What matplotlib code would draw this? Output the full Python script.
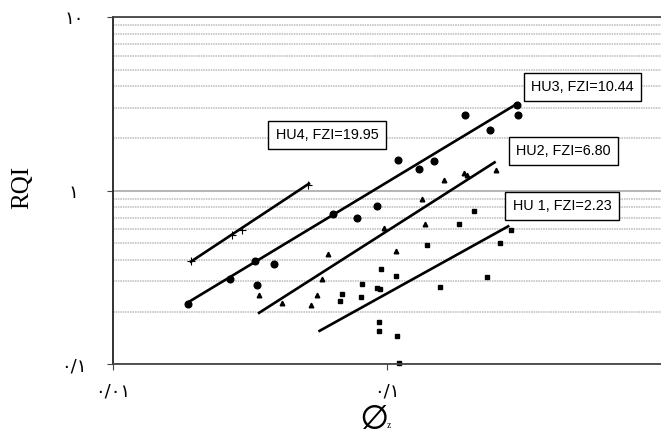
import matplotlib
matplotlib.use("Agg")
import matplotlib.pyplot as plt
from matplotlib.ticker import FixedLocator, NullFormatter, LogLocator

# data (phi_z, RQI)
hu1_phi = [0.0673, 0.0684, 0.0802, 0.0809, 0.0917, 0.0941, 0.0933, 0.0933, 0.0949, 0.1075,
           0.1085, 0.1103, 0.1395, 0.1555, 0.1824, 0.2068, 0.2307, 0.2572, 0.2821]
hu1_rqi = [0.231, 0.254, 0.244, 0.290, 0.275, 0.271, 0.175, 0.155, 0.354, 0.322,
           0.145, 0.1015, 0.486, 0.278, 0.643, 0.764, 0.318, 0.499, 0.593]

hu2_phi = [0.0341, 0.0414, 0.0527, 0.0555, 0.0578, 0.0608, 0.0973, 0.1075, 0.134, 0.137,
           0.161, 0.190, 0.195, 0.249]
hu2_rqi = [0.250, 0.225, 0.219, 0.250, 0.310, 0.431, 0.609, 0.449, 0.896, 0.643,
           1.15, 1.27, 1.23, 1.32]

hu3_phi = [0.0188, 0.0267, 0.0330, 0.0387, 0.0335, 0.0634, 0.0776, 0.0917, 0.109, 0.130,
           0.148, 0.192, 0.237, 0.297, 0.299]
hu3_rqi = [0.222, 0.309, 0.393, 0.378, 0.286, 0.734, 0.696, 0.816, 1.50, 1.33,
           1.48, 2.73, 2.24, 3.12, 2.73]

hu4_phi = [0.0193, 0.0272, 0.0296, 0.0514]
hu4_rqi = [0.393, 0.555, 0.593, 1.08]

# fitted trend lines (end points)
hu1_line_phi = [0.0561, 0.278]
hu1_line_rqi = [0.154, 0.628]
hu2_line_phi = [0.0338, 0.248]
hu2_line_rqi = [0.1955, 1.47]
hu3_line_phi = [0.01865, 0.2955]
hu3_line_rqi = [0.225, 3.16]
hu4_line_phi = [0.0191, 0.0523]
hu4_line_rqi = [0.386, 1.108]

fzi = [2.23, 6.80, 10.44, 19.95]
unit_names = ["HU 1", "HU2", "HU3", "HU4"]

y_ticks = [0.1, 1, 10]
y_tick_labels = ["\u0660/\u0661", "\u0661", "\u0661\u0660"]
x_ticks = [0.01, 0.1]
x_tick_labels = ["\u0660/\u0660\u0661", "\u0660/\u0661"]

plt.rcParams["mathtext.fontset"] = "stix"

fig = plt.figure(figsize=(6.61, 4.32), dpi=100)
ax = fig.add_axes([0.1705, 0.1574, 0.831, 0.8025])

ax.set_xscale("log")
ax.set_yscale("log")
ax.set_xlim(0.01, 1)
ax.set_ylim(0.1, 10)

# grid
ax.yaxis.set_minor_locator(LogLocator(base=10, subs=range(2, 10)))
ax.yaxis.set_minor_formatter(NullFormatter())
ax.grid(which="minor", axis="y", color="#bcbcbc", linestyle=(0, (1, 0.6)), linewidth=1.1)
ax.grid(which="major", axis="y", color="#a0a0a0", linestyle="-", linewidth=1.1)
ax.set_axisbelow(True)

# trend lines
for lp, lr in [(hu1_line_phi, hu1_line_rqi), (hu2_line_phi, hu2_line_rqi),
               (hu3_line_phi, hu3_line_rqi), (hu4_line_phi, hu4_line_rqi)]:
    ax.plot(lp, lr, color="black", linewidth=1.9, solid_capstyle="butt")

# points
ax.plot(hu1_phi, hu1_rqi, "s", color="black", markersize=3.3, clip_on=False)
ax.plot(hu2_phi, hu2_rqi, "^", color="black", markersize=3.3, clip_on=False)
ax.plot(hu3_phi, hu3_rqi, "o", color="black", markersize=4.8, clip_on=False)
ax.plot(hu4_phi, hu4_rqi, "+", color="black", markersize=6, markeredgewidth=0.8)

# labels of each unit
label_pos = [(0.818, 0.456), (0.820, 0.614), (0.855, 0.799), (0.390, 0.660)]
for name, f, (px, py) in zip(unit_names, fzi, label_pos):
    ax.text(px, py, f"{name}, FZI={f:.2f}", transform=ax.transAxes,
            ha="center", va="center", fontsize=10.4, family="Liberation Sans",
            bbox=dict(boxstyle="square,pad=0.5", fc="white", ec="black", lw=1.0))

# spines
ax.spines["right"].set_visible(False)
ax.spines["left"].set_color("#222222")
ax.spines["left"].set_linewidth(1.3)
ax.spines["top"].set_color("#444444")
ax.spines["top"].set_linewidth(1.3)
ax.spines["bottom"].set_color("#444444")
ax.spines["bottom"].set_linewidth(1.3)

# ticks
ax.yaxis.set_major_locator(FixedLocator(y_ticks))
ax.set_yticklabels(y_tick_labels)
ax.xaxis.set_major_locator(FixedLocator(x_ticks))
ax.set_xticklabels(x_tick_labels)
ax.xaxis.set_minor_locator(FixedLocator([]))
ax.tick_params(axis="y", which="minor", length=0)
ax.tick_params(axis="both", which="major", length=4, width=0.8, color="#444444",
               labelsize=13)
ax.tick_params(axis="y", which="major", pad=24)
ax.tick_params(axis="x", which="major", pad=9)
for lab in ax.get_yticklabels():
    lab.set_horizontalalignment("center")

ax.set_ylabel("RQI", fontsize=18, family="Liberation Serif")
ax.yaxis.set_label_coords(-0.145, 0.51)
ax.set_xlabel(r"$\varnothing$", fontsize=26)
ax.xaxis.set_label_coords(0.475, -0.1)
ax.text(0.499, -0.178, "z", transform=ax.transAxes, fontsize=7,
        family="Liberation Serif", ha="left", va="center")

fig.savefig("out.png", dpi=100)
